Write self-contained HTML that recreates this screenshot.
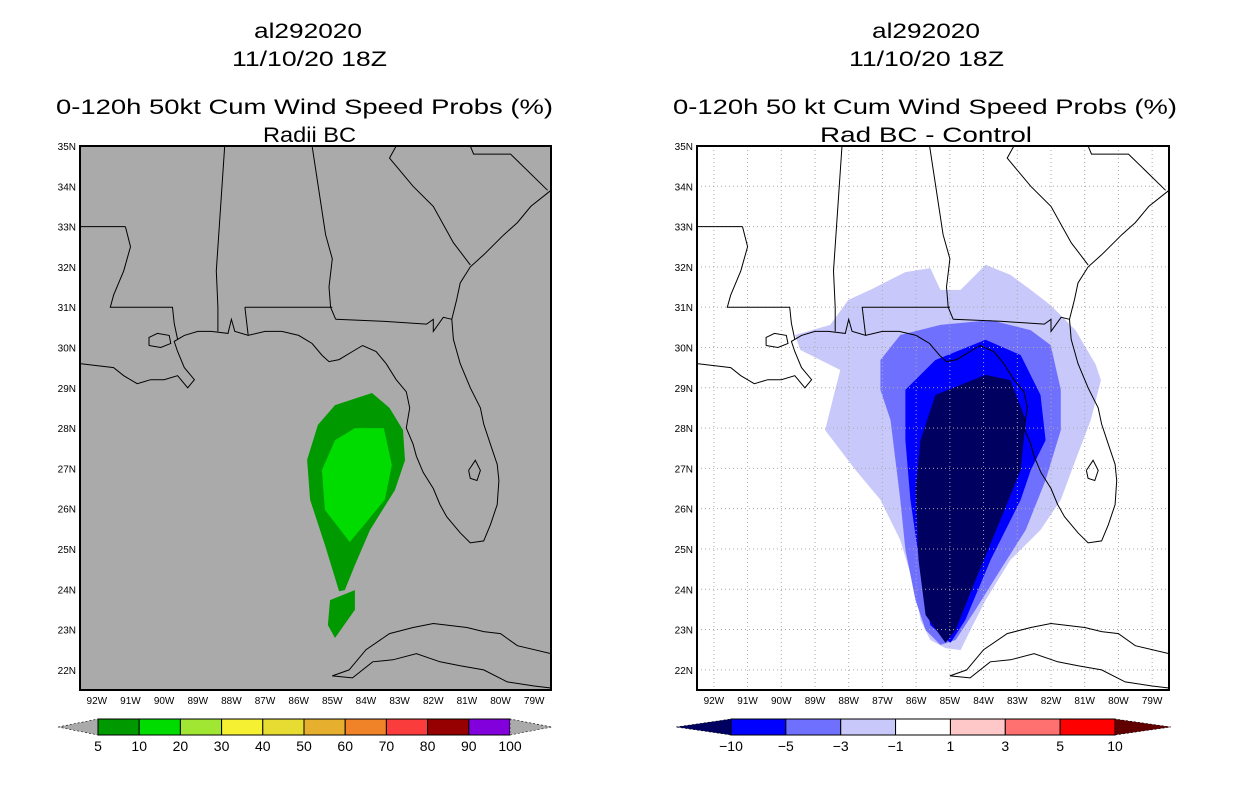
<!DOCTYPE html>
<html><head><meta charset="utf-8">
<style>
html,body{margin:0;padding:0;background:#fff;}
svg{display:block;}
text{font-family:"Liberation Sans",sans-serif;}
.t{font-size:21px;}
.tk{font-size:10px;}
</style></head>
<body>
<svg id="chart" width="1236" height="800" viewBox="0 0 1236 800" xmlns="http://www.w3.org/2000/svg">
<g>
<text class="t" x="254" y="38" textLength="108" lengthAdjust="spacingAndGlyphs">al292020</text>
<text class="t" x="232" y="66" textLength="155" lengthAdjust="spacingAndGlyphs">11/10/20 18Z</text>
<text class="t" x="56" y="114" textLength="497" lengthAdjust="spacingAndGlyphs">0-120h 50kt Cum Wind Speed Probs (%)</text>
<text class="t" x="263" y="142" textLength="93" lengthAdjust="spacingAndGlyphs">Radii BC</text>
</g>
<g>
<text class="t" x="872" y="38" textLength="108" lengthAdjust="spacingAndGlyphs">al292020</text>
<text class="t" x="849" y="66" textLength="155" lengthAdjust="spacingAndGlyphs">11/10/20 18Z</text>
<text class="t" x="673" y="114" textLength="504" lengthAdjust="spacingAndGlyphs">0-120h 50 kt Cum Wind Speed Probs (%)</text>
<text class="t" x="820" y="142" textLength="212" lengthAdjust="spacingAndGlyphs">Rad BC - Control</text>
</g>
<g id="left"></g>
<g id="right"></g>
<g id="cbl"></g>
<g id="cbr"></g>
</svg>
<script>
// ---- data ----
const lonTicks = [-92,-91,-90,-89,-88,-87,-86,-85,-84,-83,-82,-81,-80,-79];
const latTicks = [35,34,33,32,31,30,29,28,27,26,25,24,23,22];
const leftLevels = ['5','10','20','30','40','50','60','70','80','90','100'];
const leftColors = ['#009900','#00dc00','#a0e632','#f5f032','#e6dc32','#e6af2d','#f08228','#fa3c3c','#960000','#8200dc'];
const rightLevels = ['-10','-5','-3','-1','1','3','5','10'];
const rightColors = ['#0000ff','#7070ff','#c8c8fa','#ffffff','#ffc8c8','#ff7070','#ff0000'];
const green5 = [[-83.82,28.87],[-83.3,28.5],[-82.9,27.95],[-82.84,27.2],[-83.14,26.46],[-83.88,25.47],[-84.33,24.6],[-84.63,23.98],[-84.8,23.95],[-85.22,25.1],[-85.66,26.22],[-85.75,27.21],[-85.43,28.08],[-84.92,28.57]];
const green5b = [[-85.07,23.73],[-84.33,23.98],[-84.33,23.49],[-84.92,22.79],[-85.13,23.11]];
const green10 = [[-84.33,28.0],[-83.47,28.0],[-83.23,27.08],[-83.44,26.22],[-84.48,25.17],[-85.22,25.97],[-85.31,26.96],[-84.92,27.7]];
const diff1 = [[-88.01,31.18],[-87.36,31.43],[-86.32,31.87],[-85.58,31.97],[-85.28,31.43],[-84.68,31.43],[-83.94,32.05],[-83.2,31.8],[-82.6,31.43],[-82.01,31.05],[-81.27,30.43],[-80.67,29.57],[-80.52,29.19],[-80.82,28.2],[-81.27,27.21],[-81.71,26.22],[-82.31,25.47],[-83.2,24.73],[-83.94,23.73],[-84.39,22.99],[-84.68,22.49],[-85.13,22.54],[-85.58,22.74],[-85.87,23.24],[-86.02,23.98],[-86.47,25.22],[-87.06,26.22],[-87.8,26.96],[-88.7,27.95],[-88.4,28.95],[-88.25,29.44],[-88.84,29.69],[-89.44,29.94],[-89.59,30.31],[-88.55,30.56]];
const diff3 = [[-87.06,29.69],[-86.47,30.31],[-85.28,30.56],[-83.79,30.68],[-82.6,30.43],[-82.01,30.06],[-81.71,28.95],[-81.71,27.95],[-82.16,26.71],[-82.75,25.47],[-83.5,24.48],[-84.24,23.49],[-84.83,22.74],[-85.28,22.62],[-85.72,22.99],[-86.02,23.73],[-86.32,24.98],[-86.47,26.22],[-86.76,28.2],[-87.06,28.95]];
const diff5 = [[-86.32,28.95],[-85.43,29.69],[-83.94,30.19],[-82.9,29.81],[-82.31,28.82],[-82.16,27.7],[-82.6,26.96],[-82.9,26.22],[-83.79,24.73],[-84.54,23.24],[-84.98,22.67],[-85.58,23.11],[-85.87,24.48],[-86.17,26.22],[-86.32,27.7]];
const diff10 = [[-85.43,28.82],[-83.94,29.32],[-83.2,29.19],[-82.75,28.2],[-82.9,26.96],[-83.5,25.72],[-84.24,24.23],[-84.83,22.99],[-85.13,22.67],[-85.72,23.36],[-85.93,24.73],[-86.02,26.46],[-85.87,27.7]];
const coast = [[-92.5,29.6],[-92,29.55],[-91.5,29.5],[-91.2,29.3],[-90.8,29.1],[-90.4,29.2],[-90,29.2],[-89.6,29.3],[-89.3,29.0],[-89.1,29.2],[-89.4,29.5],[-89.6,29.9],[-89.7,30.15],[-89.4,30.3],[-89,30.4],[-88.6,30.4],[-88.1,30.35],[-88.0,30.7],[-87.9,30.4],[-87.5,30.3],[-87,30.4],[-86.5,30.4],[-86,30.3],[-85.6,30.1],[-85.3,29.8],[-85.1,29.65],[-84.8,29.7],[-84.4,29.9],[-84.1,30.05],[-83.7,29.9],[-83.4,29.6],[-83.1,29.2],[-82.8,28.9],[-82.7,28.5],[-82.8,28.0],[-82.6,27.6],[-82.5,27.3],[-82.3,26.9],[-82.0,26.5],[-81.8,26.1],[-81.6,25.8],[-81.2,25.4],[-80.9,25.15],[-80.5,25.2],[-80.3,25.6],[-80.1,26.1],[-80.05,26.7],[-80.1,27.1],[-80.3,27.6],[-80.5,28.1],[-80.6,28.5],[-80.9,29.0],[-81.2,29.6],[-81.4,30.2],[-81.45,30.7],[-81.3,31.2],[-81.2,31.6],[-80.9,32.0],[-80.5,32.3],[-79.9,32.8],[-79.5,33.1],[-79.1,33.5],[-78.5,33.9]];
const pontchartrain = [[-90.45,30.05],[-90.1,30.0],[-89.8,30.1],[-89.85,30.3],[-90.2,30.35],[-90.45,30.25],[-90.45,30.05]];
const okeechobee = [[-80.95,26.95],[-80.75,27.2],[-80.6,26.95],[-80.7,26.7],[-80.9,26.75],[-80.95,26.95]];
const cubaN = [[-85,21.85],[-84.5,22.0],[-84,22.5],[-83.3,22.9],[-82.6,23.05],[-82,23.15],[-81.5,23.1],[-81,23.05],[-80.5,22.95],[-80,22.9],[-79.5,22.6],[-78.5,22.4]];
const cubaS = [[-85,21.85],[-84.4,21.8],[-83.8,22.2],[-83.2,22.25],[-82.5,22.4],[-81.8,22.2],[-81.2,22.1],[-80.5,22.0],[-79.8,21.7],[-79,21.6],[-78.5,21.55]];
const borders = [
 [[-92.5,33],[-91.15,33]],
 [[-91.15,33],[-91.0,32.5],[-91.2,31.9],[-91.5,31.3],[-91.6,31.0],[-89.75,31],[-89.7,30.6],[-89.6,30.2]],
 [[-88.2,35],[-88.45,31.9],[-88.4,31],[-88.4,30.4]],
 [[-87.6,31],[-85.0,31]],
 [[-87.6,31],[-87.5,30.3]],
 [[-85.6,35],[-85.2,32.8],[-85,32.2],[-85.1,31.5],[-85.05,31],[-84.9,30.7]],
 [[-84.9,30.7],[-83.5,30.65],[-82.2,30.58],[-82.0,30.7],[-82.0,30.4],[-81.7,30.75],[-81.45,30.7]],
 [[-83.1,35],[-83.3,34.7],[-82.6,34],[-82,33.5],[-81.4,32.6],[-80.9,32.05]],
 [[-80.9,35],[-80.8,34.8],[-79.7,34.8],[-78.6,33.9]]
];
// ---- drawing ----
const NS='http://www.w3.org/2000/svg';
const LON0=-92.5, LON1=-78.5, LAT0=21.5, LAT1=35;
const TOP=146, BOT=690;
function mk(tag,attrs,parent){const e=document.createElementNS(NS,tag);for(const k in attrs)e.setAttribute(k,attrs[k]);parent.appendChild(e);return e;}
function panel(g,x0,x1,bg){
  const xs=lon=>x0+(lon-LON0)/(LON1-LON0)*(x1-x0);
  const ys=lat=>TOP+(LAT1-lat)/(LAT1-LAT0)*(BOT-TOP);
  const pts=a=>a.map(p=>xs(p[0]).toFixed(1)+','+ys(p[1]).toFixed(1)).join(' ');
  const cid='clip'+x0;
  const defs=mk('defs',{},g);const cp=mk('clipPath',{id:cid},defs);mk('rect',{x:x0,y:TOP,width:x1-x0,height:BOT-TOP},cp);
  const bgr=mk('rect',{x:x0,y:TOP,width:x1-x0,height:BOT-TOP,fill:bg},g);
  
  
  const inner=mk('g',{'clip-path':'url(#'+cid+')'},g);
  return {xs,ys,pts,inner};
}
function poly(P,arr,fill,name){
  const p=mk('polygon',{points:P.pts(arr),fill:fill,stroke:'none'},P.inner);
  
  
}
function geo(P,x0,x1,grid){
  if(grid){
    lonTicks.forEach(l=>{const ln=mk('line',{x1:P.xs(l),x2:P.xs(l),y1:TOP,y2:BOT,stroke:'#aaa','stroke-width':1,'stroke-dasharray':'1,3'},P.inner);
      
      });
    latTicks.forEach(l=>{const ln=mk('line',{x1:x0,x2:x1,y1:P.ys(l),y2:P.ys(l),stroke:'#aaa','stroke-width':1,'stroke-dasharray':'1,3'},P.inner);
      
      });
  }
  [coast,pontchartrain,okeechobee,cubaN,cubaS].forEach(a=>{const c=mk('polyline',{points:P.pts(a),fill:'none',stroke:'#000','stroke-width':1},P.inner);
    
    });
  borders.forEach(a=>{const c=mk('polyline',{points:P.pts(a),fill:'none',stroke:'#000','stroke-width':1},P.inner);
    
    });
  const fr=mk('rect',{x:x0,y:TOP,width:x1-x0,height:BOT-TOP,fill:'none',stroke:'#000','stroke-width':2},P.inner.parentNode);
  
  
  lonTicks.forEach(l=>{const t=mk('text',{x:P.xs(l),y:704,'text-anchor':'middle',class:'tk'},P.inner.parentNode);t.textContent=(-l)+'W';
    
    });
  latTicks.forEach(l=>{const t=mk('text',{x:x0-4,y:P.ys(l)+4,'text-anchor':'end',class:'tk'},P.inner.parentNode);t.textContent=l+'N';
    
    });
}
const L=panel(document.getElementById('left'),80,551,'#aaaaaa');
poly(L,green5,leftColors[0],'prob-5-10');
poly(L,green5b,leftColors[0],'prob-5-10-south');
poly(L,green10,leftColors[1],'prob-10-20');
geo(L,80,551,false);
const R=panel(document.getElementById('right'),697,1169,'#ffffff');
poly(R,diff1,rightColors[2],'diff-minus1-minus3');
poly(R,diff3,rightColors[1],'diff-minus3-minus5');
poly(R,diff5,rightColors[0],'diff-minus5-minus10');
poly(R,diff10,'#000060','diff-below-minus10');
geo(R,697,1169,true);
function colorbar(g,xa,xb,xc,xd,colors,labels,lowCol,highCol){
  const y0=719,y1=735,ym=727;const n=colors.length;const w=(xc-xb)/n;
  const lt=mk('polygon',{points:`${xa},${ym} ${xb},${y0} ${xb},${y1}`,fill:lowCol,stroke:'#000','stroke-width':0.6,'stroke-dasharray':'2,2'},g);
  
  
  colors.forEach((c,i)=>{const r=mk('rect',{x:xb+i*w,y:y0,width:w,height:y1-y0,fill:c,stroke:'#000','stroke-width':1},g);
    
    });
  const ht=mk('polygon',{points:`${xc},${y0} ${xc},${y1} ${xd},${ym}`,fill:highCol,stroke:'#000','stroke-width':0.6,'stroke-dasharray':'2,2'},g);
  
  
  labels.forEach((s,i)=>{const t=mk('text',{x:xb+i*w,y:751,'text-anchor':'middle','font-size':'14px'},g);t.textContent=s.replace('-','\u2212');
    
    });
}
colorbar(document.getElementById('cbl'),58,98,510,552,leftColors,leftLevels,'#aaaaaa','#aaaaaa');
colorbar(document.getElementById('cbr'),676,731,1115,1171,rightColors,rightLevels,'#000060','#600000');
</script>
</body></html>
